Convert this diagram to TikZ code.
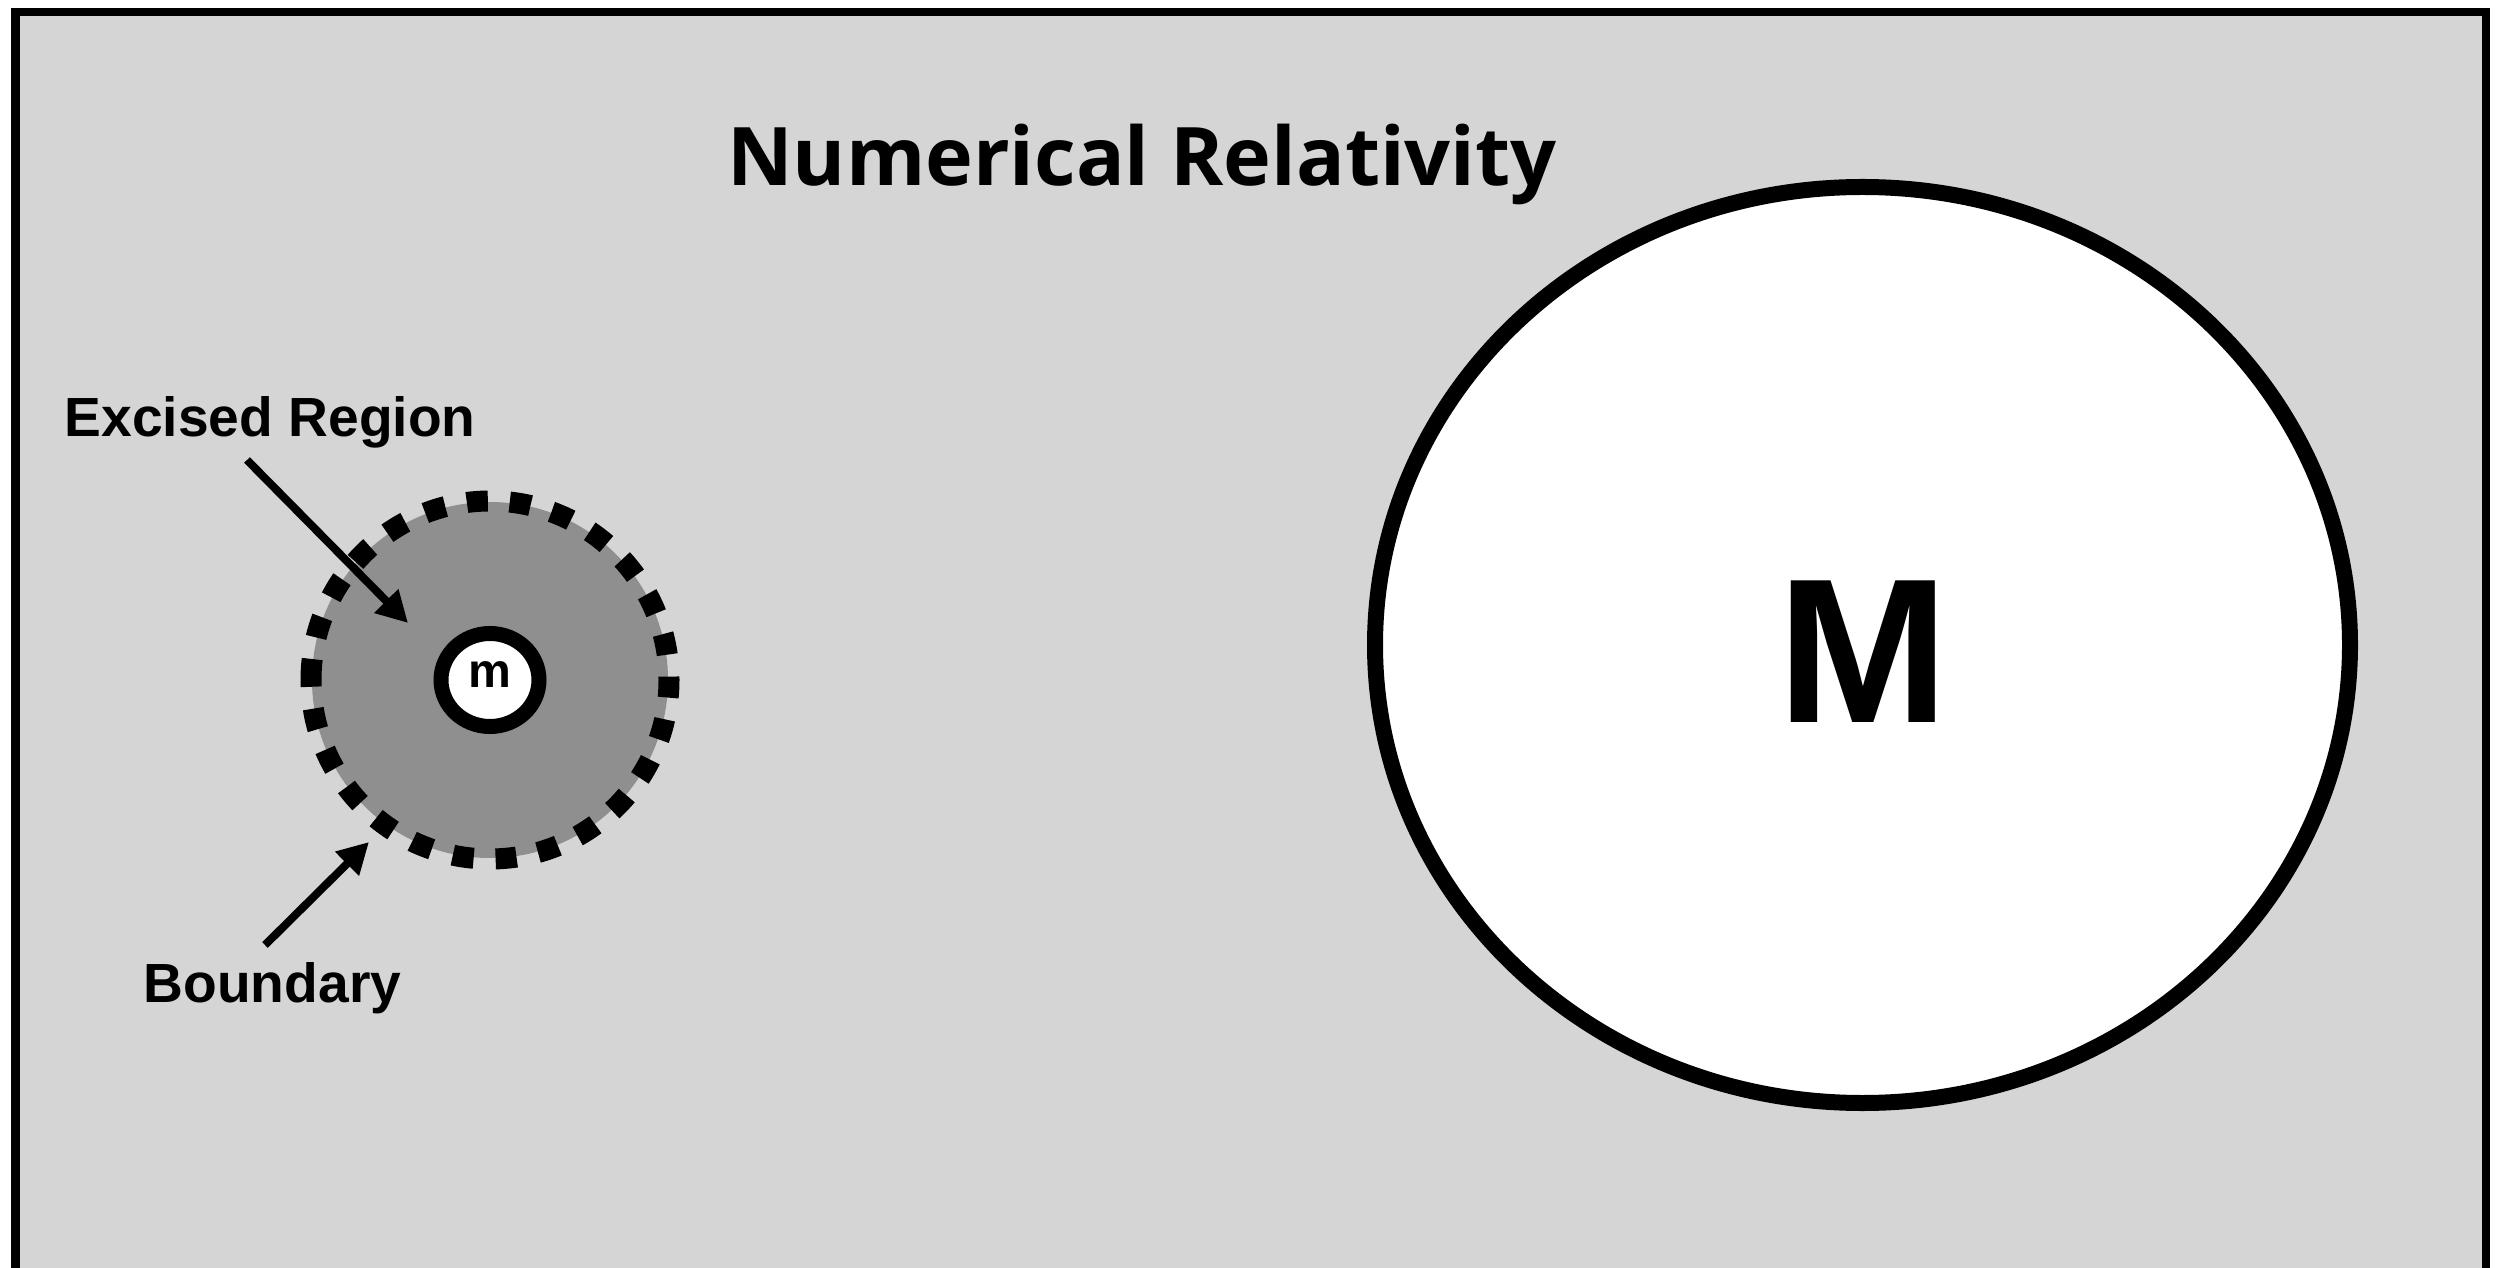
\documentclass[tikz,border=0pt]{standalone}
\usepackage{fontspec}
\setmainfont{Liberation Sans}
\newfontfamily\titlefont{Open Sans}
\usepackage{xcolor}
\usetikzlibrary{arrows.meta}

\definecolor{bggray}{HTML}{D5D5D5}
\definecolor{cutgray}{HTML}{8F8F8F}

\begin{document}
\begin{tikzpicture}[lbl/.style={font=\bfseries\fontsize{15.7}{18}\selectfont, inner sep=0pt},
  ptr/.style={line width=0.08cm, -{Triangle[length=0.31cm, width=0.32cm]}}]
\useasboundingbox (0,0) rectangle (25.03,-12.68);
\fill[white] (0,0) rectangle (25.03,-12.68);
\draw[line width=0.08cm, fill=bggray] (0.155,-0.12) rectangle (24.855,-13.2);
% small mass with excised region
\coordinate (c) at (4.90,-6.80);
\fill[cutgray] (c) circle (1.78);
\draw[line width=0.21cm, dash pattern=on 0.21cm off 0.22cm] (c) ++(-1.79,0) arc (180:-180:1.79);
\draw[line width=0.15cm, fill=white] (c) ellipse (0.49 and 0.465);
\node[inner sep=0pt, anchor=base, font=\bfseries\fontsize{13.7}{16}\selectfont] (m) at (4.90,-6.88) {m};
% large mass
\draw[line width=0.16cm, fill=white] (18.625,-6.45) ellipse (4.875 and 4.58);
\node[inner sep=0pt, anchor=base, font=\bfseries\fontsize{58.6}{64}\selectfont] (M) at (18.63,-7.22) {M};
% labels
\node[inner sep=0pt, anchor=base, font=\titlefont\bfseries\fontsize{23}{28}\selectfont] (title) at (11.42,-1.86) {Numerical Relativity};
\node[lbl, anchor=base west] (exc) at (0.64,-4.37) {Excised Region};
\node[lbl, anchor=base west] (bnd) at (1.43,-10.02) {Boundary};
\coordinate (exc tail) at (2.47,-4.60);
\coordinate (exc tip) at (4.08,-6.23);
\coordinate (bnd tail) at (2.65,-9.45);
\coordinate (bnd tip) at (3.69,-8.42);
\draw[ptr] (exc tail) -- (exc tip);
\draw[ptr] (bnd tail) -- (bnd tip);
\end{tikzpicture}
\end{document}
